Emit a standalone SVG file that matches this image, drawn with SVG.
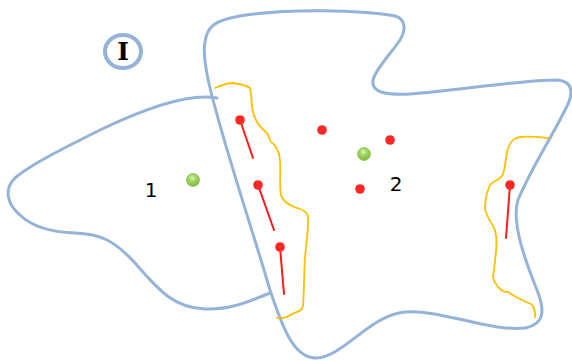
<svg xmlns="http://www.w3.org/2000/svg" width="572" height="361" viewBox="0 0 572 361">
  <style>
    .region { fill: none; stroke: #95B3D7; stroke-width: 3; stroke-linecap: round; stroke-linejoin: round; }
    .band { fill: none; stroke: #FFC000; stroke-width: 1.8; stroke-linecap: round; stroke-linejoin: round; }
    .seg { stroke: #FF1A1A; stroke-width: 2; stroke-linecap: round; }
    .pt { fill: #FF2626; }
    .seed { fill: url(#seedGrad); }
    .lbl { font-family: "DejaVu Sans", Verdana, sans-serif; font-size: 20px; fill: #000; text-anchor: middle; }
  </style>
  <defs>
    <radialGradient id="seedGrad" cx="0.45" cy="0.35" r="0.65">
      <stop offset="0" stop-color="#E4F5C8"/>
      <stop offset="0.35" stop-color="#A8D86A"/>
      <stop offset="1" stop-color="#7CB83A"/>
    </radialGradient>
  </defs>

  <rect width="572" height="361" fill="#FFFFFF"/>

  <!-- marker badge -->
  <g id="badge">
    <ellipse cx="123" cy="51.5" rx="18" ry="16.5" fill="#FFFFFF" stroke="#95B3D7" stroke-width="4"/>
    <text x="123" y="60" font-family="'DejaVu Serif', 'Liberation Serif', serif" font-weight="bold" font-size="25" text-anchor="middle" fill="#000">I</text>
  </g>

  <!-- region 2 (large outline) -->
  <g id="region2">
    <path class="region" d="M 205,42 C 207,26 216,20 240,16 C 290,8 360,10 395,16 C 406,19 406,30 400,40 C 390,55 376,68 373,80 C 371,93 386,95 410,94 C 460,90 520,80 558,80 C 575,82 573,96 565,110 C 553,135 530,170 518,200 C 511,222 525,260 537,290 C 545,310 545,324 525,328 C 490,332 440,309 405,312 C 370,315 342,358 316,358 C 292,358 281,322 270,290 C 250,222 226,152 211,92 C 205,68 203,52 205,42 Z"/>
    <text class="lbl" x="396" y="191">2</text>
  </g>

  <!-- region 1 (outline meeting region 2) -->
  <g id="region1">
    <path class="region" d="M 217,98 C 190,93 150,106 100,130 C 62,149 30,165 15,178 C 3,190 8,205 20,215 C 32,227 50,232 75,233 C 100,234 114,240 135,263 C 160,292 175,308 205,309 C 232,310 252,300 270,293"/>
    <text class="lbl" x="151" y="197">1</text>
  </g>

  <!-- boundary bands -->
  <g id="band-left">
    <path class="band" d="M 215,88 C 222,85 228,83 233,83 C 240,84 246,85 250,88 C 252,95 251,104 253,112 C 255,120 258,126 266,132 C 270,136 269,141 271,142 C 276,145 279,150 280,160 C 281,172 279,185 281,195 C 283,202 290,206 300,209 C 306,211 309,214 308,222 C 308,235 306,245 305,257 C 304,275 304,295 303,306 C 302,312 296,312 292,314 C 288,317 284,319 277,318"/>
  </g>
  <g id="band-right">
    <path class="band" d="M 548,138 C 538,137 528,136 520,137 C 512,138 509,144 507,152 C 505,162 505,172 502,176 C 499,180 493,181 490,185 C 487,192 485,200 485,208 C 486,216 490,220 493,226 C 497,232 497,240 496,252 C 495,262 494,270 493,277 C 494,284 500,290 505,292 C 507,291 509,292 511,294 C 518,298 525,302 531,304 C 535,307 535,312 535,317"/>
  </g>

  <!-- points and segments -->
  <g id="connectors">
    <line class="seg" x1="240" y1="120" x2="253" y2="158"/>
    <line class="seg" x1="258" y1="185" x2="274" y2="230"/>
    <line class="seg" x1="280" y1="247" x2="284" y2="294"/>
    <line class="seg" x1="510" y1="185" x2="506" y2="238"/>
  </g>
  <g id="points">
    <circle class="pt" cx="240" cy="120" r="4.8"/>
    <circle class="pt" cx="258" cy="185" r="4.8"/>
    <circle class="pt" cx="280" cy="247" r="4.8"/>
    <circle class="pt" cx="322" cy="130" r="4.8"/>
    <circle class="pt" cx="390" cy="140" r="4.8"/>
    <circle class="pt" cx="360" cy="189" r="4.8"/>
    <circle class="pt" cx="510" cy="185" r="4.8"/>
  </g>
  <g id="seeds">
    <circle class="seed" cx="193" cy="180" r="6.5" stroke="#8CC44E" stroke-width="0.8"/>
    <circle class="seed" cx="364" cy="154" r="6.5" stroke="#8CC44E" stroke-width="0.8"/>
  </g>
</svg>
